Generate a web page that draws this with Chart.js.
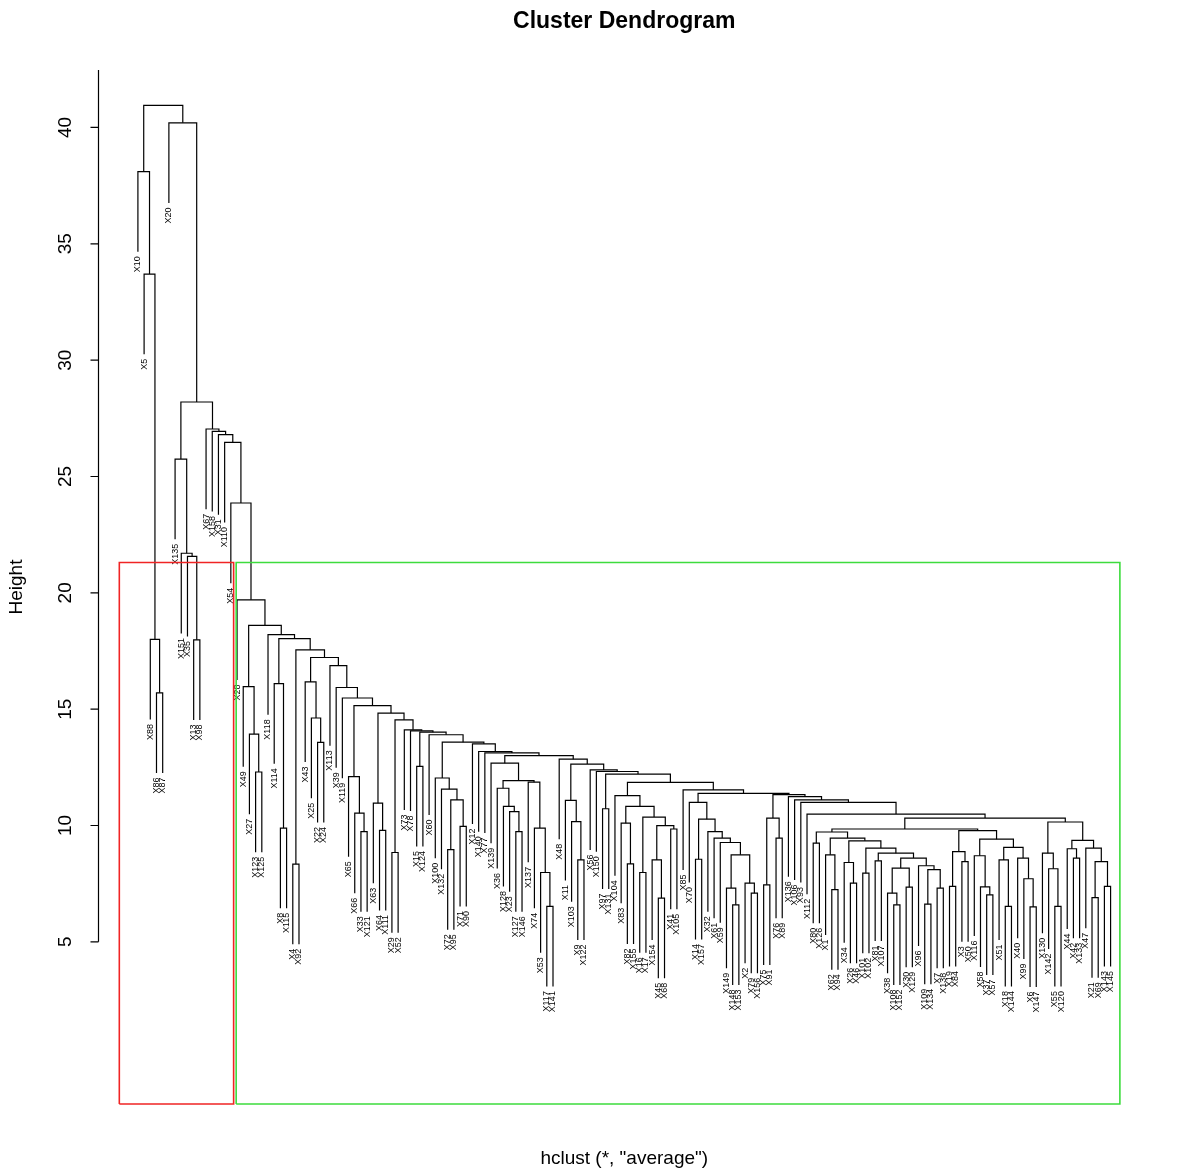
<!DOCTYPE html>
<html>
<head>
<meta charset="utf-8">
<title>Cluster Dendrogram</title>
<script src="https://cdn.jsdelivr.net/npm/chart.js@4.4.0/dist/chart.umd.min.js"></script>
<style>
html, body{
    margin:0;
    padding:0;
    background:#ffffff;
}
#chart{
    display:block;
}
</style>
</head>
<body>
<canvas id="chart" width="1200" height="1171"></canvas>
<script>
// leaves in the order the dendrogram draws them (left to right)
const leafLabels = [
    "X10","X5","X88","X86","X87","X20","X135","X151","X35","X13",
    "X98","X67","X158","X31","X110","X54","X28","X49","X27","X123",
    "X125","X118","X114","X8","X115","X4","X92","X43","X25","X22",
    "X24","X113","X39","X119","X65","X66","X33","X121","X63","X64",
    "X111","X29","X52","X73","X78","X15","X124","X60","X100","X132",
    "X72","X95","X71","X90","X12","X140","X77","X139","X36","X128",
    "X23","X127","X146","X137","X74","X53","X117","X141","X48","X11",
    "X103","X9","X122","X56","X150","X97","X131","X104","X83","X82",
    "X155","X16","X17","X154","X45","X68","X41","X105","X85","X70",
    "X14","X157","X32","X61","X59","X149","X148","X153","X2","X79",
    "X156","X75","X91","X76","X89","X136","X106","X93","X112","X80",
    "X126","X1","X62","X94","X34","X26","X46","X101","X102","X81",
    "X107","X38","X108","X152","X30","X129","X96","X109","X134","X7",
    "X138","X19","X84","X3","X50","X116","X58","X37","X57","X51",
    "X18","X144","X40","X99","X6","X147","X130","X142","X55","X120",
    "X44","X42","X133","X47","X21","X69","X143","X145"
];

// height at which each leaf joins its right-hand neighbour
const mergeHeights = [
    38.1, 33.7, 18.0, 15.7, 40.95, 40.2, 25.75, 21.7, 21.57, 17.98,
    28.2, 27.04, 26.94, 26.8, 26.47, 23.86, 19.7, 15.97, 13.93, 12.3,
    18.6, 18.2, 16.1, 9.89, 18.03, 8.34, 17.55, 16.17, 14.62, 13.57,
    17.22, 16.87, 15.93, 15.48, 12.1, 10.53, 9.74, 15.15, 10.96, 9.79,
    14.83, 8.84, 14.54, 14.11, 14.07, 12.54, 14.01, 13.9, 12.04, 11.56,
    8.96, 11.1, 9.96, 13.58, 13.51, 13.18, 13.12, 12.68, 11.6, 10.82,
    10.6, 9.74, 11.93, 11.86, 9.89, 7.98, 6.52, 13.0, 12.85, 11.08,
    10.17, 8.52, 12.64, 12.39, 12.32, 10.72, 12.21, 11.28, 10.1, 8.35,
    10.82, 7.98, 10.36, 8.52, 6.88, 9.99, 9.85, 11.85, 11.53, 10.99,
    8.55, 10.27, 9.74, 9.46, 9.27, 7.31, 6.59, 8.74, 7.52, 7.09,
    11.38, 7.45, 10.32, 9.46, 11.33, 11.24, 11.1, 10.99, 10.49, 9.24,
    9.72, 8.74, 7.24, 9.46, 8.41, 7.52, 9.34, 7.95, 9.03, 8.48,
    8.81, 7.09, 6.59, 8.17, 7.35, 8.6, 8.27, 6.62, 8.1, 7.31,
    9.85, 7.38, 8.88, 8.45, 9.78, 8.7, 7.36, 7.02, 9.41, 8.52,
    6.52, 9.06, 8.6, 7.71, 6.5, 10.32, 8.81, 8.14, 6.52, 10.15,
    9.0, 8.6, 9.36, 9.03, 6.9, 8.45, 7.38
];

const yTicks = [5, 10, 15, 20, 25, 30, 35, 40];

// cut rectangles: leaf-position span and the cut height
const cutHeight = 21.3;
const redSpan = [-2.0, 16.45];
const greenSpan = [16.86, 159.5];

const xLimits = [-5.28, 164.28];
const yLimits = [-1.97, 42.47];

const hang = 0.1 * (Math.max(...mergeHeights) - Math.min(...mergeHeights));
const fontFamily = "'Liberation Sans', Arial, Helvetica, sans-serif";

const leafEnds = [];

function buildNode(lo, hi){
    if(lo === hi){
        return { leaf:lo, x:lo + 1 };
    }

    let split = lo;
    for(let i = lo; i < hi; i++){
        if(mergeHeights[i] > mergeHeights[split]){
            split = i;
        }
    }

    const left = buildNode(lo, split);
    const right = buildNode(split + 1, hi);

    return {
        h:mergeHeights[split],
        left:left,
        right:right,
        x:(left.x + right.x) / 2
    };
}

function childBottom(node, child){
    if(child.leaf !== undefined){
        leafEnds[child.leaf] = node.h - hang;
        return node.h - hang;
    }
    return child.h;
}

function collectSegments(node, out){
    if(node.leaf !== undefined){
        return;
    }

    const lb = childBottom(node, node.left);
    const rb = childBottom(node, node.right);

    out.push([
        { x:node.left.x, y:lb },
        { x:node.left.x, y:node.h },
        { x:node.right.x, y:node.h },
        { x:node.right.x, y:rb }
    ]);

    collectSegments(node.left, out);
    collectSegments(node.right, out);
}

function boxPoints(span){
    return [
        { x:span[0], y:yLimits[0] },
        { x:span[0], y:cutHeight },
        { x:span[1], y:cutHeight },
        { x:span[1], y:yLimits[0] },
        { x:span[0], y:yLimits[0] }
    ];
}

const root = buildNode(0, leafLabels.length - 1);
const segments = [];
collectSegments(root, segments);

const lineStyle = {
    showLine:true,
    pointRadius:0,
    pointHoverRadius:0,
    tension:0,
    fill:false
};

const datasets = [
    { ...lineStyle, data:boxPoints(redSpan), borderColor:"#f02424", borderWidth:1.6, clip:false },
    { ...lineStyle, data:boxPoints(greenSpan), borderColor:"#3ddc3d", borderWidth:1.6, clip:false }
];

segments.forEach(points => {
    datasets.push({ ...lineStyle, data:points, borderColor:"#000000", borderWidth:1.2 });
});

const dendroText = {
    id:"dendroText",
    beforeDatasetsDraw(chart){
        const ctx = chart.ctx;
        const xScale = chart.scales.x;
        const yScale = chart.scales.y;

        ctx.save();
        ctx.fillStyle = "#000000";
        ctx.font = `9px ${fontFamily}`;
        ctx.textAlign = "right";
        ctx.textBaseline = "middle";

        leafLabels.forEach((label, i) => {
            const px = xScale.getPixelForValue(i + 1);
            const py = yScale.getPixelForValue(leafEnds[i]) + 4.5;
            ctx.save();
            ctx.translate(px, py);
            ctx.rotate(-Math.PI / 2);
            ctx.fillText(label, 0, 0);
            ctx.restore();
        });

        ctx.restore();
    },
    afterDraw(chart){
        const ctx = chart.ctx;
        const area = chart.chartArea;
        const yScale = chart.scales.y;
        const axisX = Math.round(area.left) - 0.5;

        ctx.save();
        ctx.strokeStyle = "#000000";
        ctx.fillStyle = "#000000";
        ctx.lineWidth = 1.2;

        // y axis line and ticks
        ctx.beginPath();
        ctx.moveTo(axisX, yScale.getPixelForValue(yTicks[0]));
        ctx.lineTo(axisX, yScale.getPixelForValue(yScale.max));
        yTicks.forEach(t => {
            const py = yScale.getPixelForValue(t);
            ctx.moveTo(axisX, py);
            ctx.lineTo(axisX - 8, py);
        });
        ctx.stroke();

        ctx.font = `19px ${fontFamily}`;
        ctx.textAlign = "center";
        ctx.textBaseline = "alphabetic";
        yTicks.forEach(t => {
            const py = yScale.getPixelForValue(t);
            ctx.save();
            ctx.translate(71, py);
            ctx.rotate(-Math.PI / 2);
            ctx.fillText(String(t), 0, 0);
            ctx.restore();
        });

        // axis title
        ctx.save();
        ctx.translate(22, (area.top + area.bottom) / 2);
        ctx.rotate(-Math.PI / 2);
        ctx.fillText("Height", 0, 0);
        ctx.restore();

        const midX = (area.left + area.right) / 2;
        ctx.fillText("hclust (*, \"average\")", midX, 1164);

        ctx.font = `bold 23px ${fontFamily}`;
        ctx.fillText("Cluster Dendrogram", midX, 28);

        ctx.restore();
    }
};

new Chart(document.getElementById("chart"), {
    type:"scatter",
    data:{ datasets:datasets },
    options:{
        responsive:false,
        animation:false,
        devicePixelRatio:1,
        events:[],
        layout:{
            padding:{ left:99, right:50.5, top:70, bottom:67 }
        },
        plugins:{
            legend:{ display:false },
            tooltip:{ enabled:false }
        },
        scales:{
            x:{ type:"linear", display:false, min:xLimits[0], max:xLimits[1] },
            y:{ type:"linear", display:false, min:yLimits[0], max:yLimits[1] }
        }
    },
    plugins:[dendroText]
});
</script>
</body>
</html>
